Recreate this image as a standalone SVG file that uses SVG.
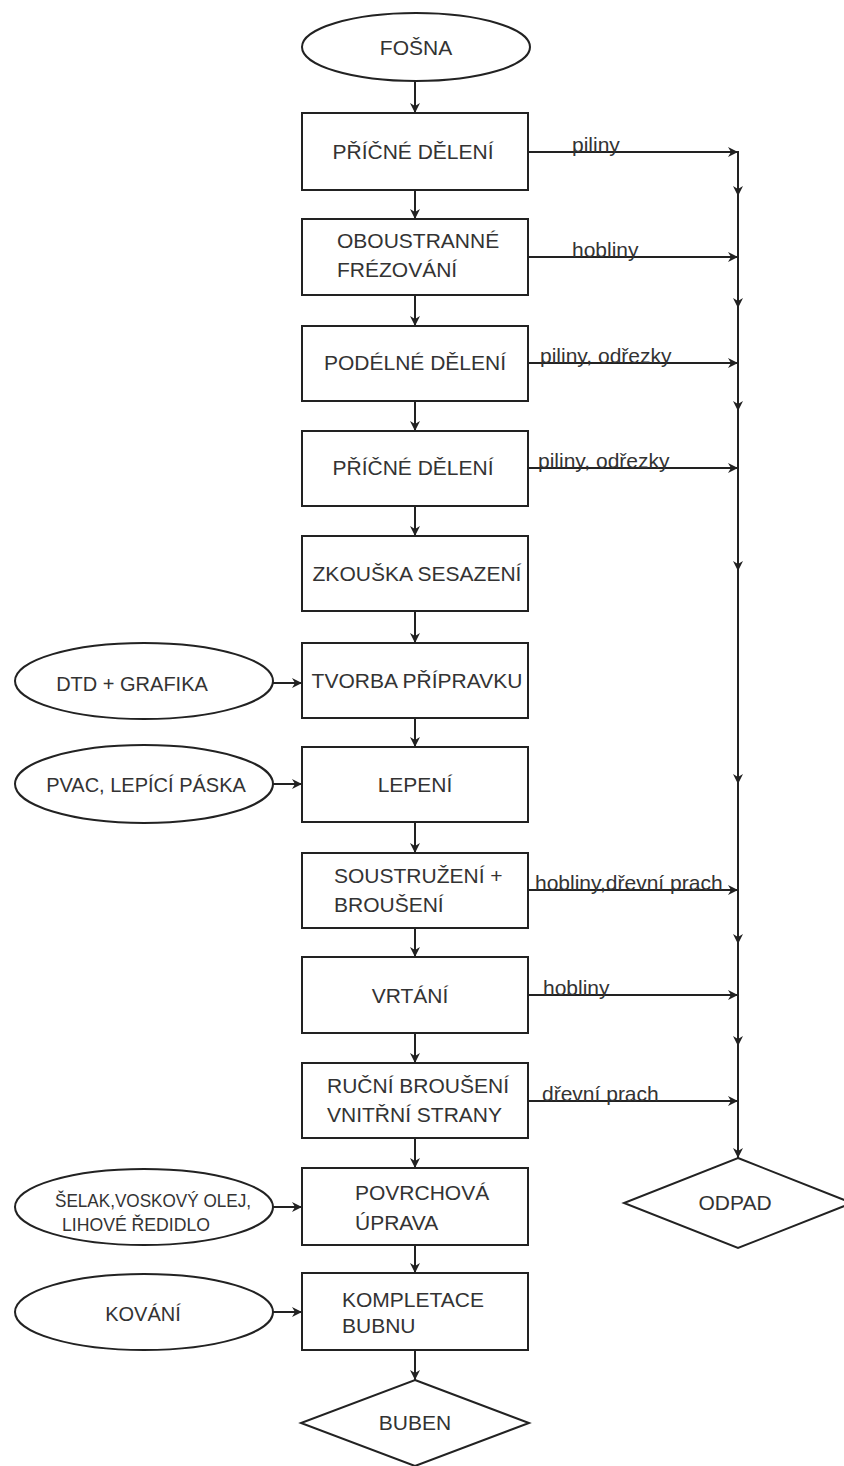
<svg xmlns="http://www.w3.org/2000/svg" width="844" height="1466" viewBox="0 0 844 1466">
<style>
.shape{fill:#fff;stroke:#222;stroke-width:2}
.t{font-family:"Liberation Sans",Arial,sans-serif;font-size:21px;fill:#333}
.tc{text-anchor:middle}
.s{font-family:"Liberation Sans",Arial,sans-serif;font-size:21px;fill:#333}
.ell{font-family:"Liberation Sans",Arial,sans-serif;font-size:20px;fill:#333;text-anchor:middle}
.c{fill:none;stroke:#222;stroke-width:2;marker-end:url(#ah)}
</style>
<defs>
<marker id="ah" markerUnits="userSpaceOnUse" markerWidth="12" markerHeight="12" refX="10" refY="5" orient="auto" overflow="visible">
<path d="M0,0 L10,5 L0,10 L3,5 Z" fill="#222"/>
</marker>
</defs>
<rect width="844" height="1466" fill="#fff"/>

<g id="connectors">
<line class="c" x1="415" y1="81" x2="415" y2="113"/>
<line class="c" x1="415" y1="190" x2="415" y2="219"/>
<line class="c" x1="415" y1="295" x2="415" y2="326"/>
<line class="c" x1="415" y1="401" x2="415" y2="431"/>
<line class="c" x1="415" y1="506" x2="415" y2="536"/>
<line class="c" x1="415" y1="611" x2="415" y2="643"/>
<line class="c" x1="415" y1="718" x2="415" y2="747"/>
<line class="c" x1="415" y1="822" x2="415" y2="853"/>
<line class="c" x1="415" y1="928" x2="415" y2="957"/>
<line class="c" x1="415" y1="1033" x2="415" y2="1063"/>
<line class="c" x1="415" y1="1138" x2="415" y2="1168"/>
<line class="c" x1="415" y1="1245" x2="415" y2="1273"/>
<line class="c" x1="415" y1="1350" x2="415" y2="1380"/>

<line class="c" x1="273" y1="683" x2="302" y2="683"/>
<line class="c" x1="273" y1="784" x2="302" y2="784"/>
<line class="c" x1="273" y1="1207" x2="302" y2="1207"/>
<line class="c" x1="273" y1="1312" x2="302" y2="1312"/>

<line class="c" x1="528" y1="152" x2="738" y2="152"/>
<line class="c" x1="528" y1="257" x2="738" y2="257"/>
<line class="c" x1="528" y1="363" x2="738" y2="363"/>
<line class="c" x1="528" y1="468" x2="738" y2="468"/>
<line class="c" x1="528" y1="890" x2="738" y2="890"/>
<line class="c" x1="528" y1="995" x2="738" y2="995"/>
<line class="c" x1="528" y1="1101" x2="738" y2="1101"/>

<line class="c" x1="738" y1="151" x2="738" y2="196"/>
<line class="c" x1="738" y1="196" x2="738" y2="308"/>
<line class="c" x1="738" y1="308" x2="738" y2="411"/>
<line class="c" x1="738" y1="411" x2="738" y2="571"/>
<line class="c" x1="738" y1="571" x2="738" y2="784"/>
<line class="c" x1="738" y1="784" x2="738" y2="944"/>
<line class="c" x1="738" y1="944" x2="738" y2="1046"/>
<line class="c" x1="738" y1="1046" x2="738" y2="1158"/>

<text class="s" x="572" y="152">piliny</text>
<text class="s" x="572" y="257">hobliny</text>
<text class="s" x="540" y="363">piliny, odřezky</text>
<text class="s" x="538" y="468">piliny, odřezky</text>
<text class="s" x="535" y="890">hobliny,dřevní prach</text>
<text class="s" x="543" y="995">hobliny</text>
<text class="s" x="542" y="1101">dřevní prach</text>
</g>

<g id="fosna">
<ellipse class="shape" cx="416" cy="47" rx="114" ry="34"/>
<text class="t tc" x="416" y="55">FOŠNA</text>
</g>

<g id="pricne1">
<rect class="shape" x="302" y="113" width="226" height="77"/>
<text class="t tc" x="413" y="159">PŘÍČNÉ DĚLENÍ</text>
</g>

<g id="oboustranne">
<rect class="shape" x="302" y="219" width="226" height="76"/>
<text class="t" x="337" y="248">OBOUSTRANNÉ</text>
<text class="t" x="337" y="277">FRÉZOVÁNÍ</text>
</g>

<g id="podelne">
<rect class="shape" x="302" y="326" width="226" height="75"/>
<text class="t tc" x="415" y="370">PODÉLNÉ DĚLENÍ</text>
</g>

<g id="pricne2">
<rect class="shape" x="302" y="431" width="226" height="75"/>
<text class="t tc" x="413" y="475">PŘÍČNÉ DĚLENÍ</text>
</g>

<g id="zkouska">
<rect class="shape" x="302" y="536" width="226" height="75"/>
<text class="t tc" x="417" y="581">ZKOUŠKA SESAZENÍ</text>
</g>

<g id="dtd">
<ellipse class="shape" cx="144" cy="681" rx="129" ry="38"/>
<text class="ell" x="132" y="691" font-size="21">DTD + GRAFIKA</text>
</g>

<g id="tvorba">
<rect class="shape" x="302" y="643" width="226" height="75"/>
<text class="t tc" x="417" y="688">TVORBA PŘÍPRAVKU</text>
</g>

<g id="pvac">
<ellipse class="shape" cx="144" cy="784" rx="129" ry="39"/>
<text class="ell" x="146" y="792" font-size="19">PVAC, LEPÍCÍ PÁSKA</text>
</g>

<g id="lepeni">
<rect class="shape" x="302" y="747" width="226" height="75"/>
<text class="t tc" x="415" y="792">LEPENÍ</text>
</g>

<g id="soustruzeni">
<rect class="shape" x="302" y="853" width="226" height="75"/>
<text class="t" x="334" y="883">SOUSTRUŽENÍ +</text>
<text class="t" x="334" y="912">BROUŠENÍ</text>
</g>

<g id="vrtani">
<rect class="shape" x="302" y="957" width="226" height="76"/>
<text class="t tc" x="410" y="1003">VRTÁNÍ</text>
</g>

<g id="rucni">
<rect class="shape" x="302" y="1063" width="226" height="75"/>
<text class="t" x="327" y="1093">RUČNÍ BROUŠENÍ</text>
<text class="t" x="327" y="1122">VNITŘNÍ STRANY</text>
</g>

<g id="selak">
<ellipse class="shape" cx="144" cy="1207" rx="129" ry="38"/>
<text x="55" y="1207" font-family="Liberation Sans, Arial, sans-serif" font-size="19" fill="#333" textLength="196" lengthAdjust="spacingAndGlyphs">ŠELAK,VOSKOVÝ OLEJ,</text>
<text x="62" y="1231" font-family="Liberation Sans, Arial, sans-serif" font-size="19" fill="#333" textLength="148" lengthAdjust="spacingAndGlyphs">LIHOVÉ ŘEDIDLO</text>
</g>

<g id="povrchova">
<rect class="shape" x="302" y="1168" width="226" height="77"/>
<text class="t" x="355" y="1200">POVRCHOVÁ</text>
<text class="t" x="355" y="1230">ÚPRAVA</text>
</g>

<g id="kovani">
<ellipse class="shape" cx="144" cy="1312" rx="129" ry="38"/>
<text class="ell" x="143" y="1321" font-size="20">KOVÁNÍ</text>
</g>

<g id="kompletace">
<rect class="shape" x="302" y="1273" width="226" height="77"/>
<text class="t" x="342" y="1307">KOMPLETACE</text>
<text class="t" x="342" y="1333">BUBNU</text>
</g>

<g id="buben">
<polygon class="shape" points="415,1380 529,1423 415,1466 301,1423"/>
<text class="t tc" x="415" y="1430">BUBEN</text>
</g>

<g id="odpad">
<polygon class="shape" points="738,1158 852,1203 738,1248 624,1203"/>
<text class="t tc" x="735" y="1210">ODPAD</text>
</g>
</svg>
